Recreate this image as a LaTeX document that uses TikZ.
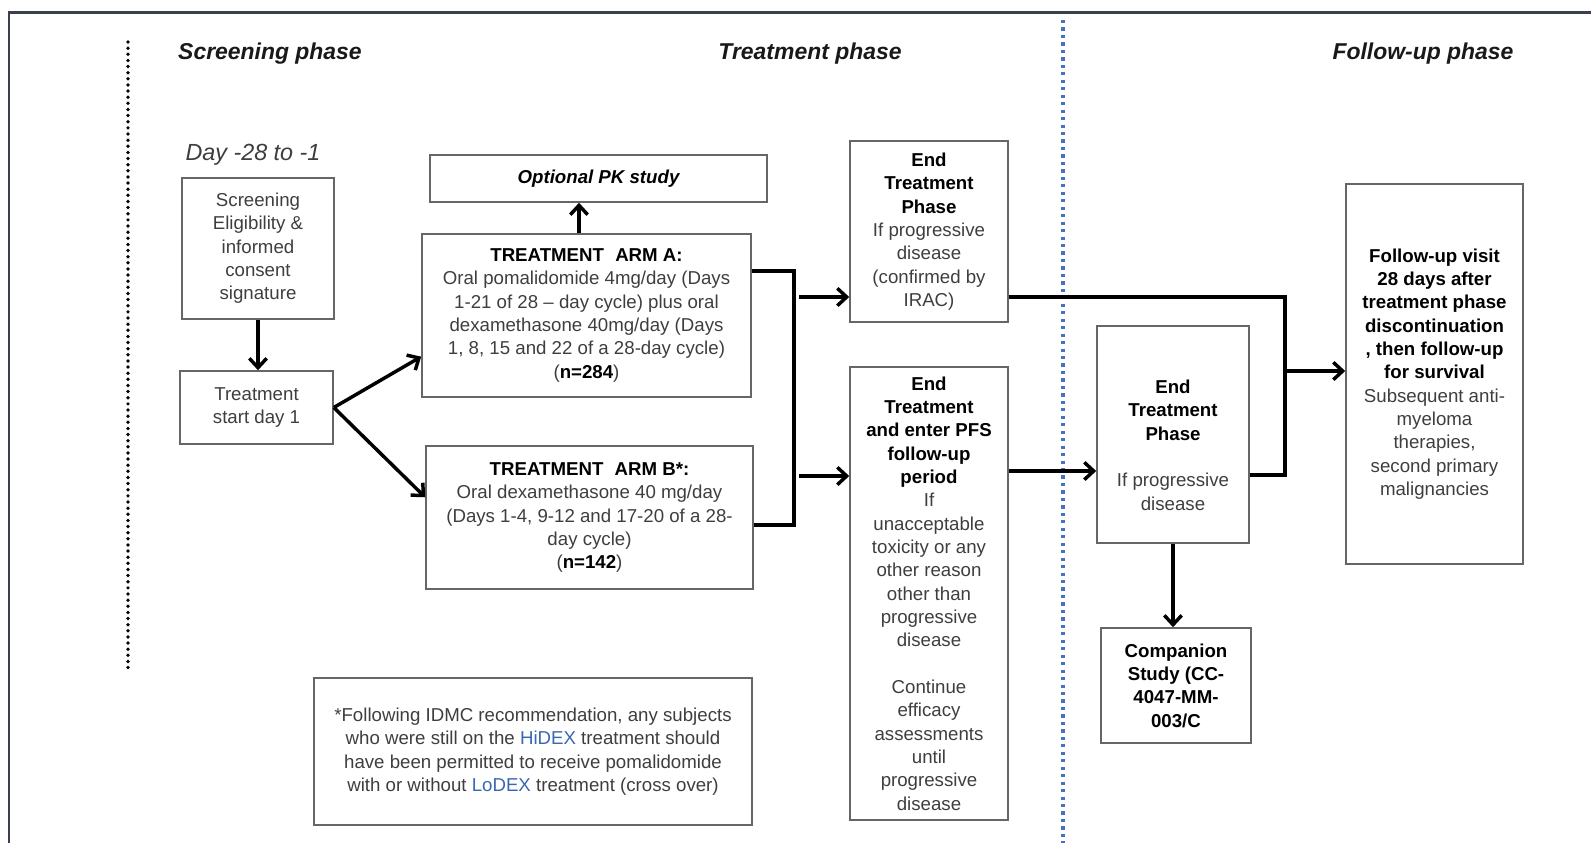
\documentclass[tikz,border=0pt]{standalone}
\usepackage{fontspec}
\setmainfont{Liberation Sans}
\usetikzlibrary{arrows.meta,calc}

\definecolor{framec}{RGB}{58,64,76}
\definecolor{dotblue}{RGB}{68,114,196}
\definecolor{txtgray}{RGB}{62,62,62}
\definecolor{linkc}{RGB}{56,104,176}

% bold line inside a box
\newcommand{\bl}[1]{\textbf{\color{black}#1}}

\begin{document}
\begin{tikzpicture}[x=0.75pt,y=-0.75pt,
  box/.style={draw=black!60, line width=1.2pt, inner sep=0pt, align=center,
    text=txtgray, font=\fontsize{14}{17.5}\selectfont},
  boxtext/.style={inner sep=0pt, align=center, text=txtgray,
    font=\fontsize{14}{17.5}\selectfont},
  sz/.style 2 args={minimum width=#1*0.75pt, minimum height=#2*0.75pt},
  conn/.style={line width=2.6pt, black},
  arr/.style={conn, -{Straight Barb[length=7pt,width=13pt]}},
  hdr/.style={font=\fontsize{17.2}{20}\selectfont\bfseries\itshape, text=black!90},
]
\useasboundingbox (0,0) rectangle (1591,843);

% outer frame (top and left edges)
\draw[framec, line width=2.2pt] (9,843) -- (9,12.5) -- (1591,12.5);

% phase separators
\draw[black, line width=2.8pt, line cap=round, dash pattern=on 0pt off 4.6pt]
  (128,42) -- (128,673);
\draw[dotblue, line width=2.8pt, dash pattern=on 2.4pt off 3.2pt]
  (1063,20) -- (1063,843);

% phase headings
\node[hdr] (h1) at (270,54) {Screening phase};
\node[hdr] (h2) at (810,54) {Treatment phase};
\node[hdr] (h3) at (1423,54) {Follow-up phase};
\node[font=\fontsize{17.5}{20}\selectfont\itshape, text=txtgray] (day) at (253,155) {Day -28 to -1};

% screening
\node[box, sz={152}{141}] (screen) at (258,248.5)
  {Screening\\Eligibility \&\\informed\\consent\\signature};
\node[box, sz={153}{73}] (start) at (256.5,407.5) {Treatment\\start day 1};

% treatment arms
\node[box, sz={337}{47}] (pk) at (598.5,178.5) {\bl{\itshape Optional PK study}};
\node[box, sz={329}{163}] (armA) at (586.5,315.5)
  {\bl{TREATMENT\hspace{0.6em}ARM A:}\\
   Oral pomalidomide 4mg/day (Days\\
   1-21 of 28 \textendash{} day cycle) plus oral\\
   dexamethasone 40mg/day (Days\\
   1, 8, 15 and 22 of a 28-day cycle)\\
   (\bl{n=284})};
\node[box, sz={327}{143}] (armB) at (589.5,517.5)
  {\bl{TREATMENT\hspace{0.6em}ARM B*:}\\
   Oral dexamethasone 40 mg/day\\
   (Days 1-4, 9-12 and 17-20 of a 28-\\
   day cycle)\\
   (\bl{n=142})};

% end of treatment
\node[box, sz={158}{181}] (end1) at (929,231.5)
  {\bl{End}\\\bl{Treatment}\\\bl{Phase}\\If progressive\\disease\\(confirmed by\\IRAC)};
\node[box, sz={158}{453}] (end2) at (929,593.5)
  {\bl{End}\\\bl{Treatment}\\\bl{and enter PFS}\\\bl{follow-up}\\\bl{period}\\
   If\\unacceptable\\toxicity or any\\other reason\\other than\\progressive\\disease\\[17.5pt]
   Continue\\efficacy\\assessments\\until\\progressive\\disease};
\node[box, sz={152}{217}] (end3) at (1173,434.5) {};
\node[boxtext] (end3t) at (1173,445)
  {\bl{End}\\\bl{Treatment}\\\bl{Phase}\\[17.5pt]If progressive\\disease};
\node[box, sz={150}{115}] (comp) at (1176,685.5)
  {\bl{Companion}\\\bl{Study (CC-}\\\bl{4047-MM-}\\\bl{003/C}};

% follow-up
\node[box, sz={177}{380}] (fu) at (1434.5,374)
  {\bl{Follow-up visit}\\\bl{28 days after}\\\bl{treatment phase}\\\bl{discontinuation}\\
   \bl{, then follow-up}\\\bl{for survival}\\
   Subsequent anti-\\myeloma\\therapies,\\second primary\\malignancies};

% footnote
\node[box, sz={438}{147}] (note) at (533,751.5)
  {*Following IDMC recommendation, any subjects\\
   who were still on the \textcolor{linkc}{HiDEX} treatment should\\
   have been permitted to receive pomalidomide\\
   with or without \textcolor{linkc}{LoDEX} treatment (cross over)};

% connectors
\draw[arr] (screen.south) -- (screen.south |- start.north);
\draw[arr] (start.east) -- ($(armA.south west)!0.25!(armA.north west)$);
\draw[arr] (start.east) -- ($(armB.north west)!0.36!(armB.south west)$);

\coordinate (pkx) at (579,0);
\draw[arr] (armA.north -| pkx) -- (pk.south -| pkx);

\coordinate (jA) at (794,271);
\coordinate (jB) at (794,525);
\draw[conn] (jA -| armA.east) -- (jA) -- (jB) -- (jB -| armB.east);

\coordinate (o1) at (799,297);
\coordinate (o2) at (799,476);
\draw[arr] (o1) -- (o1 -| end1.west);
\draw[arr] (o2) -- (o2 -| end2.west);

\coordinate (e23) at (0,471);
\draw[arr] (e23 -| end2.east) -- (e23 -| end3.west);

\coordinate (jC) at (1285,297);
\coordinate (jD) at (1285,475);
\draw[conn] (jC -| end1.east) -- (jC) -- (jD) -- (jD -| end3.east);
\coordinate (o3) at (1285,371);
\draw[arr] (o3) -- (o3 -| fu.west);

\draw[arr] (end3.south) -- (end3.south |- comp.north);
\end{tikzpicture}
\end{document}
